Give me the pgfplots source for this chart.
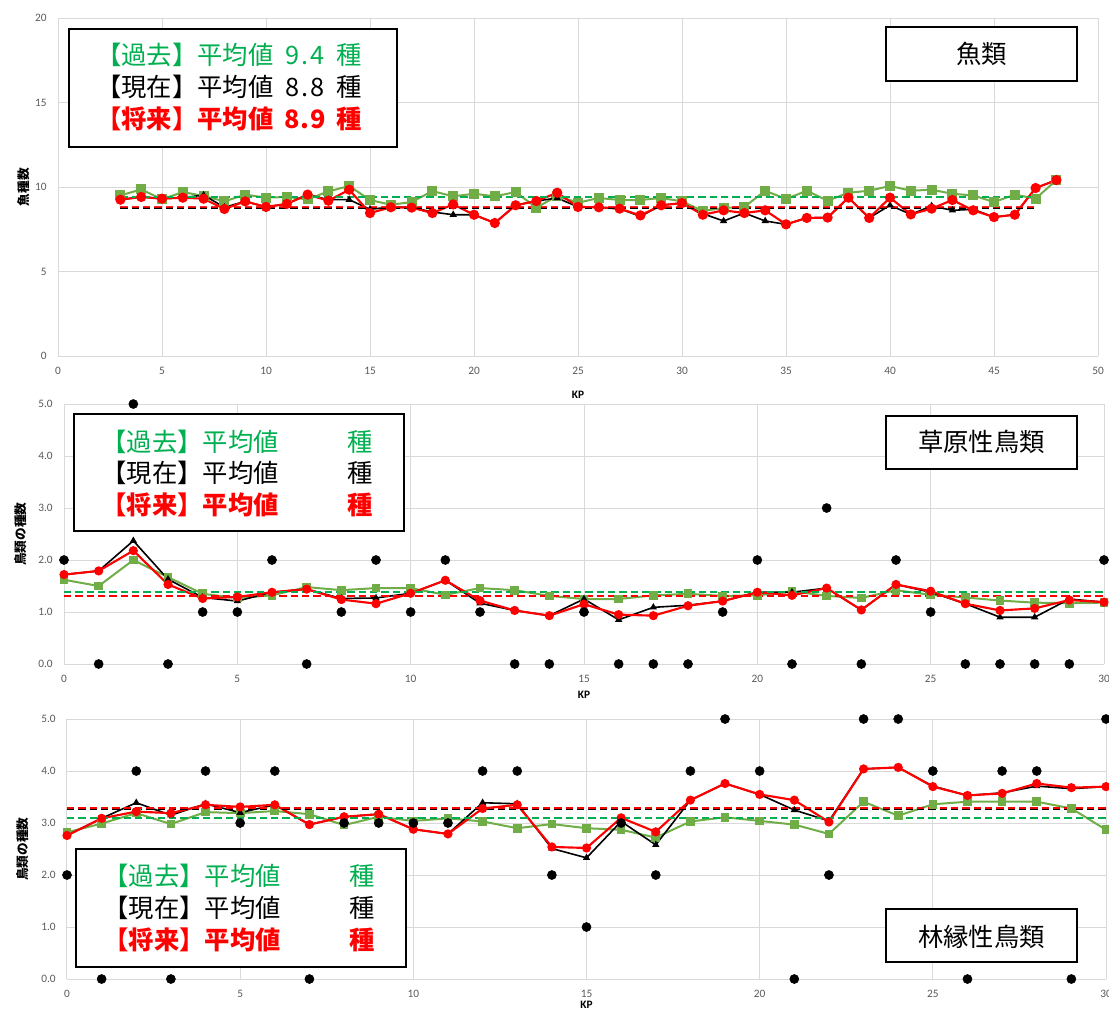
\documentclass[border=0pt]{standalone}
\usepackage{fontspec}
\usepackage{pgfplots}
\pgfplotsset{compat=1.18}
\setmainfont{Carlito}
\newfontfamily\jp{Noto Sans CJK JP}
\definecolor{pastg}{RGB}{112,173,71}
\definecolor{meang}{RGB}{0,176,80}
\definecolor{tickc}{RGB}{89,89,89}
\definecolor{gridc}{RGB}{217,217,217}
\pgfplotsset{
  base/.style={scale only axis, anchor=north west, clip=false,
    grid=major, grid style={gridc, line width=0.75pt},
    axis line style={draw=none}, major tick length=0pt,
    tick label style={font=\fontsize{8.5}{10}\selectfont, text=tickc},
    /pgf/number format/assume math mode=true,
    xticklabel style={yshift=-5pt}, yticklabel style={xshift=-5pt},
    ylabel style={font=\jp\bfseries\fontsize{9.5}{11}\selectfont, anchor=center},
    xlabel style={font=\bfseries\fontsize{8.5}{10}\selectfont, anchor=center}},
  past/.style={pastg, line width=1.5pt, mark=square*, mark size=3pt, mark options={solid}},
  present/.style={black, line width=1.2pt, mark=triangle*, mark size=2pt, mark options={solid}},
  future/.style={red, line width=1.6pt, mark=*, mark size=3pt, mark options={solid}},
  obs/.style={only marks, mark=*, mark size=3.4pt, black},
  meanl/.style={line width=1.5pt, dash pattern=on 5.5pt off 3pt},
}
\newcommand{\lgsz}{\fontsize{19}{21}\selectfont}
\newcommand{\hw}[1]{\makebox[0.5em]{#1}}
\begin{document}
\begin{tikzpicture}
\path[use as bounding box] (0,0) rectangle (831.75pt,-756pt);
% ---------- Panel 1: fish ----------
\begin{axis}[base, at={(43.5pt,-13.5pt)}, width=780pt, height=253.5pt,
  xmin=0, xmax=50, ymin=0, ymax=20, xtick={0,5,...,50}, ytick={0,5,...,20},
  ylabel={魚種数}, ylabel style={at={(axis description cs:-0.0327,0.5)}},
  xlabel={KP}, xlabel style={at={(axis description cs:0.5,-0.1154)}}]
\addplot[past] table {
3 9.5
4 9.86
5 9.27
6 9.7
7 9.47
8 9.15
9 9.55
10 9.37
11 9.41
12 9.27
13 9.74
14 10.06
15 9.23
16 8.95
17 9.11
18 9.76
19 9.45
20 9.6
21 9.45
22 9.7
23 8.78
24 9.47
25 9.07
26 9.35
27 9.23
28 9.23
29 9.35
30 9.15
31 8.58
32 8.76
33 8.82
34 9.78
35 9.29
36 9.78
37 9.19
38 9.66
39 9.78
40 10.06
41 9.78
42 9.84
43 9.6
44 9.5
45 9.11
46 9.55
47 9.31
48 10.41
};
\addplot[present] table {
3 9.25
4 9.41
5 9.31
6 9.37
7 9.52
8 8.8
9 9.15
10 8.82
11 9.0
12 9.55
13 9.25
14 9.25
15 8.68
16 8.82
17 8.8
18 8.52
19 8.36
20 8.36
21 7.87
22 8.92
23 9.17
24 9.35
25 8.82
26 8.8
27 8.72
28 8.26
29 8.92
30 9.05
31 8.42
32 7.99
33 8.46
34 7.99
35 7.79
36 8.17
37 8.19
38 9.37
39 8.17
40 8.92
41 8.38
42 8.88
43 8.62
44 8.68
45 8.22
46 8.36
47 9.94
48 10.41
};
\addplot[future] table {
3 9.25
4 9.41
5 9.31
6 9.37
7 9.31
8 8.7
9 9.15
10 8.82
11 9.0
12 9.55
13 9.19
14 9.84
15 8.46
16 8.8
17 8.78
18 8.46
19 8.97
20 8.36
21 7.87
22 8.92
23 9.17
24 9.66
25 8.82
26 8.8
27 8.72
28 8.32
29 8.92
30 9.05
31 8.36
32 8.62
33 8.46
34 8.62
35 7.79
36 8.17
37 8.19
38 9.37
39 8.17
40 9.37
41 8.38
42 8.72
43 9.23
44 8.62
45 8.22
46 8.36
47 9.94
48 10.41
};
\addplot[meanl, meang] coordinates {(3,9.43) (47,9.43)};
\addplot[meanl, black] coordinates {(3,8.78) (47,8.78)};
\addplot[meanl, red, opacity=0.85] coordinates {(3,8.81) (47,8.81)};
\end{axis}
% ---------- Panel 2: grassland birds ----------
\begin{axis}[base, at={(48pt,-303pt)}, width=780pt, height=195pt,
  xmin=0, xmax=30, ymin=0, ymax=5, xtick={0,5,...,30}, ytick={0,1,...,5},
  yticklabel style={/pgf/number format/.cd, fixed, fixed zerofill, precision=1},
  past/.append style={mark size=2.5pt}, future/.append style={mark size=2.6pt},
  ylabel={鳥類の種数}, ylabel style={at={(axis description cs:-0.0417,0.5)}},
  xlabel={KP}, xlabel style={at={(axis description cs:0.5,-0.119)}}]
\addplot[past] table {
0 1.62
1 1.5
2 2.0
3 1.67
4 1.35
5 1.27
6 1.32
7 1.48
8 1.42
9 1.46
10 1.46
11 1.33
12 1.46
13 1.42
14 1.31
15 1.25
16 1.25
17 1.32
18 1.35
19 1.31
20 1.32
21 1.40
22 1.31
23 1.27
24 1.42
25 1.33
26 1.28
27 1.22
28 1.18
29 1.17
30 1.18
};
\addplot[present] table {
0 1.72
1 1.79
2 2.37
3 1.63
4 1.28
5 1.21
6 1.38
7 1.44
8 1.26
9 1.27
10 1.36
11 1.61
12 1.17
13 1.03
14 0.93
15 1.25
16 0.85
17 1.09
18 1.13
19 1.21
20 1.38
21 1.38
22 1.46
23 1.04
24 1.53
25 1.38
26 1.16
27 0.9
28 0.9
29 1.25
30 1.19
};
\addplot[future] table {
0 1.72
1 1.79
2 2.18
3 1.53
4 1.26
5 1.29
6 1.38
7 1.44
8 1.24
9 1.16
10 1.36
11 1.61
12 1.22
13 1.03
14 0.93
15 1.15
16 0.95
17 0.93
18 1.12
19 1.21
20 1.38
21 1.32
22 1.46
23 1.04
24 1.53
25 1.40
26 1.16
27 1.03
28 1.07
29 1.23
30 1.19
};
\addplot[meanl, meang] coordinates {(0,1.38) (30,1.38)};
\addplot[meanl, black] coordinates {(0,1.30) (30,1.30)};
\addplot[meanl, red] coordinates {(0,1.30) (30,1.30)};
\addplot[obs] table {
0 2
1 0
2 5
3 0
4 1
5 1
6 2
7 0
8 1
9 2
10 1
11 2
12 1
13 0
14 0
15 1
16 0
17 0
18 0
19 1
20 2
21 0
22 3
23 0
24 2
25 1
26 0
27 0
28 0
29 0
30 2
};
\end{axis}
% ---------- Panel 3: forest-edge birds ----------
\begin{axis}[base, at={(50.25pt,-539.25pt)}, width=779.25pt, height=195pt,
  xmin=0, xmax=30, ymin=0, ymax=5, xtick={0,5,...,30}, ytick={0,1,...,5},
  yticklabel style={/pgf/number format/.cd, fixed, fixed zerofill, precision=1},
  past/.append style={mark size=2.5pt}, future/.append style={mark size=2.6pt},
  ylabel={鳥類の種数}, ylabel style={at={(axis description cs:-0.0424,0.5)}},
  xlabel={KP}, xlabel style={at={(axis description cs:0.5,-0.1)}}]
\addplot[past] table {
0 2.82
1 2.99
2 3.19
3 2.98
4 3.21
5 3.19
6 3.23
7 3.17
8 2.96
9 3.12
10 3.04
11 3.09
12 3.03
13 2.90
14 2.98
15 2.90
16 2.87
17 2.72
18 3.03
19 3.11
20 3.04
21 2.97
22 2.79
23 3.41
24 3.14
25 3.36
26 3.41
27 3.41
28 3.41
29 3.28
30 2.87
};
\addplot[present] table {
0 2.76
1 3.09
2 3.39
3 3.15
4 3.37
5 3.2
6 3.35
7 2.97
8 3.12
9 3.17
10 2.88
11 2.79
12 3.39
13 3.37
14 2.51
15 2.33
16 3.03
17 2.58
18 3.44
19 3.76
20 3.55
21 3.25
22 3.04
23 4.04
24 4.07
25 3.71
26 3.53
27 3.58
28 3.71
29 3.66
30 3.70
};
\addplot[future] table {
0 2.76
1 3.09
2 3.22
3 3.19
4 3.35
5 3.31
6 3.35
7 2.97
8 3.12
9 3.17
10 2.88
11 2.79
12 3.28
13 3.35
14 2.54
15 2.52
16 3.10
17 2.83
18 3.44
19 3.76
20 3.55
21 3.44
22 3.02
23 4.04
24 4.07
25 3.70
26 3.53
27 3.57
28 3.76
29 3.68
30 3.70
};
\addplot[meanl, meang] coordinates {(0,3.10) (30,3.10)};
\addplot[meanl, black] coordinates {(0,3.27) (30,3.27)};
\addplot[meanl, red] coordinates {(0,3.28) (30,3.28)};
\addplot[obs] table {
0 2
1 0
2 4
3 0
4 4
5 3
6 4
7 0
8 3
9 3
10 3
11 3
12 4
13 4
14 2
15 1
16 3
17 2
18 4
19 5
20 4
21 0
22 2
23 5
24 5
25 4
26 0
27 4
28 4
29 0
30 5
};
\end{axis}
% ---------- text boxes ----------
\tikzset{box/.style={draw=black, line width=1.5pt, fill=white}}
% panel 1 legend
\draw[box] (51.45pt,-21.75pt) rectangle (298.1pt,-110pt);
\node[anchor=west, inner sep=0, text=meang, font=\jp\lgsz] at (71.85pt,-41.25pt) {【過去】平均値\hspace{0.5em}\hw{9}\hw{.}\hw{4}\hspace{0.5em}種};
\node[anchor=west, inner sep=0, text=black, font=\jp\lgsz] at (71.85pt,-65.5pt) {【現在】平均値\hspace{0.5em}\hw{8}\hw{.}\hw{8}\hspace{0.5em}種};
\node[anchor=west, inner sep=0, text=red, font=\jp\bfseries\lgsz] at (71.85pt,-89.25pt) {【将来】平均値\hspace{0.5em}\hw{8}\hw{.}\hw{9}\hspace{0.5em}種};
\draw[box] (664.3pt,-20.25pt) rectangle (807.75pt,-60.75pt);
\node[font=\jp\lgsz] at (736pt,-40.5pt) {魚類};
% panel 2 legend
\draw[box] (55.5pt,-310.5pt) rectangle (302.7pt,-398.25pt);
\node[anchor=west, inner sep=0, text=meang, font=\jp\lgsz] at (75.9pt,-331.3pt) {【過去】平均値\hspace{0.5em}\phantom{\hw{9}\hw{.}\hw{4}}\hspace{0.7em}種};
\node[anchor=west, inner sep=0, text=black, font=\jp\lgsz] at (75.9pt,-354.75pt) {【現在】平均値\hspace{0.5em}\phantom{\hw{9}\hw{.}\hw{4}}\hspace{0.7em}種};
\node[anchor=west, inner sep=0, text=red, font=\jp\bfseries\lgsz] at (75.9pt,-378.75pt) {【将来】平均値\hspace{0.5em}\phantom{\hw{9}\hw{.}\hw{4}}\hspace{0.7em}種};
\draw[box] (664.3pt,-311.8pt) rectangle (807.75pt,-351.75pt);
\node[font=\jp\lgsz] at (736pt,-331.5pt) {草原性鳥類};
% panel 3 legend
\draw[box] (57.3pt,-636.75pt) rectangle (304.5pt,-725.25pt);
\node[anchor=west, inner sep=0, text=meang, font=\jp\lgsz] at (77.4pt,-656.8pt) {【過去】平均値\hspace{0.5em}\phantom{\hw{9}\hw{.}\hw{4}}\hspace{0.7em}種};
\node[anchor=west, inner sep=0, text=black, font=\jp\lgsz] at (77.4pt,-681pt) {【現在】平均値\hspace{0.5em}\phantom{\hw{9}\hw{.}\hw{4}}\hspace{0.7em}種};
\node[anchor=west, inner sep=0, text=red, font=\jp\bfseries\lgsz] at (77.4pt,-705pt) {【将来】平均値\hspace{0.5em}\phantom{\hw{9}\hw{.}\hw{4}}\hspace{0.7em}種};
\draw[box] (664.5pt,-681.5pt) rectangle (808.1pt,-721.5pt);
\node[font=\jp\lgsz] at (736pt,-702.5pt) {林縁性鳥類};
\end{tikzpicture}
\end{document}
